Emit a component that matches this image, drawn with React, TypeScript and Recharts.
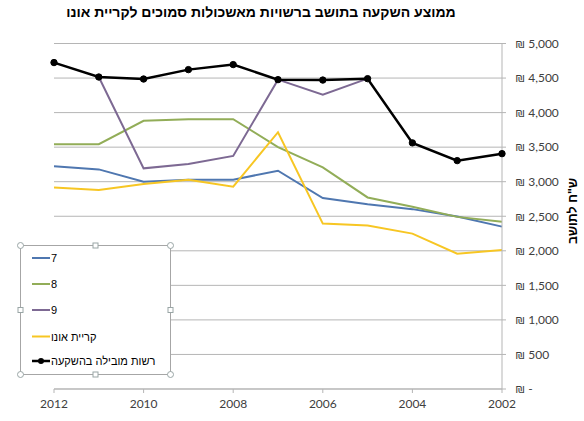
import { LineChart, Line, XAxis, YAxis, CartesianGrid, Legend } from "recharts";

const years = ["2012", "2011", "2010", "2009", "2008", "2007", "2006", "2005", "2004", "2003", "2002"];
const cluster7 = [3222, 3178, 3000, 3029, 3029, 3159, 2763, 2675, 2603, 2496, 2350];
const cluster8 = [3542, 3542, 3881, 3905, 3905, 3500, 3207, 2772, 2637, 2491, 2419];
const cluster9 = [null, 4515, 3193, 3257, 3373, 4477, 4259, 4491, null, null, null];
const kiryatOno = [2917, 2879, 2966, 3029, 2927, 3716, 2394, 2365, 2249, 1958, 2012];
const leader = [4724, 4515, 4486, 4622, 4695, 4477, 4471, 4491, 3562, 3305, 3406];
const yTicks = [0, 500, 1000, 1500, 2000, 2500, 3000, 3500, 4000, 4500, 5000];

const TITLE = "ממוצע השקעה בתושב ברשויות מאשכולות סמוכים לקריית אונו";
const Y_LABEL = 'ש"ח לתושב';

const series = [
  { key: "c7", name: "7", color: "#4f77b0", values: cluster7 },
  { key: "c8", name: "8", color: "#92ad58", values: cluster8 },
  { key: "c9", name: "9", color: "#7d6993", values: cluster9 },
  { key: "ono", name: "קריית אונו", color: "#f7c623", values: kiryatOno },
  { key: "lead", name: "רשות מובילה בהשקעה", color: "#000000", values: leader },
];

const data = years.map((year, i) => {
  const row: Record<string, string | number | null> = { year };
  series.forEach((s) => {
    row[s.key] = s.values[i];
  });
  return row;
});

const FONT = "Lato, 'Liberation Sans', sans-serif";
const HEB_FONT = "'Liberation Sans', Arial, sans-serif";

const formatShekel = (v: number) => (v === 0 ? "₪ -" : `₪ ${v.toLocaleString("en-US")}`);

// selected-legend box like the Excel screenshot, with its handles
function LegendBox() {
  const bx = 4.5, by = 4.5, bw = 150, bh = 129;
  const corners = [
    [bx, by], [bx + bw, by], [bx, by + bh], [bx + bw, by + bh],
  ];
  const mids = [
    [bx + bw / 2, by], [bx + bw / 2, by + bh], [bx, by + bh / 2], [bx + bw, by + bh / 2],
  ];
  const rowY = [17, 43, 69, 95.5, 120];
  return (
    <div style={{ position: "relative", width: 160, height: 138, background: "transparent" }}>
      <svg width={160} height={138} style={{ position: "absolute", left: 0, top: 0 }}>
        <rect x={bx} y={by} width={bw} height={bh} fill="#ffffff" stroke="#a6a6a6" strokeWidth={1} />
        {corners.map(([x, y], i) => (
          <circle key={`c${i}`} cx={x} cy={y} r={3} fill="#ffffff" stroke="#9aa6a6" strokeWidth={1} />
        ))}
        {mids.map(([x, y], i) => (
          <rect key={`m${i}`} x={x - 2.5} y={y - 2.5} width={5} height={5} fill="#ffffff" stroke="#9aa6a6" strokeWidth={1} />
        ))}
        {series.map((s, i) => (
          <g key={s.key}>
            <line x1={16} x2={34} y1={rowY[i]} y2={rowY[i]} stroke={s.color} strokeWidth={s.key === "lead" ? 2.5 : 2} />
            {s.key === "lead" && <circle cx={25} cy={rowY[i]} r={3} fill="#000" />}
          </g>
        ))}
      </svg>
      {series.map((s, i) => (
        <div
          key={s.key}
          dir="rtl"
          style={{
            position: "absolute",
            left: 35,
            top: rowY[i] - 8,
            height: 16,
            lineHeight: "16px",
            fontFamily: HEB_FONT,
            fontSize: 11,
            color: "#000",
            whiteSpace: "nowrap",
          }}
        >
          {s.name}
        </div>
      ))}
    </div>
  );
}

function YTitle(props: any) {
  const x = 573;
  const y = 211;
  return (
    <text
      x={x}
      y={y}
      transform={`rotate(-90 ${x} ${y})`}
      textAnchor="middle"
      dominantBaseline="central"
      direction="rtl"
      fontFamily={HEB_FONT}
      fontWeight="bold"
      fontSize={12.5}
      fill="#000"
    >
      {Y_LABEL}
    </text>
  );
}

export default function App() {
  return (
    <div style={{ position: "absolute", left: 0, top: 0, width: 584, height: 421, background: "#fff" }}>
      <div
        dir="rtl"
        style={{
          position: "absolute",
          left: 0,
          width: 522,
          top: 2,
          textAlign: "center",
          fontFamily: HEB_FONT,
          fontWeight: "bold",
          fontSize: 14,
          lineHeight: "21px",
          color: "#000",
        }}
      >
        {TITLE}
      </div>
      <LineChart width={584} height={421} data={data} margin={{ top: 43.5, right: 12, bottom: 7, left: 54 }}>
        <CartesianGrid vertical={false} stroke="#b5b5b5" />
        <XAxis
          dataKey="year"
          interval={1}
          height={25}
          stroke="#b5b5b5"
          tickSize={4}
          tickMargin={6}
          tick={{ fill: "#404040", fontFamily: FONT, fontSize: 12 }}
        />
        <YAxis
          orientation="right"
          width={70}
          domain={[0, 5000]}
          ticks={yTicks}
          interval={0}
          stroke="#b5b5b5"
          tickSize={4}
          tickMargin={9}
          tickFormatter={formatShekel}
          tick={{ fill: "#404040", fontFamily: FONT, fontSize: 12, textAnchor: "start" }}
          label={<YTitle />}
        />
        <Legend
          layout="vertical"
          align="center"
          verticalAlign="middle"
          content={() => <LegendBox />}
          wrapperStyle={{ left: 16, top: 241, width: 160, height: 138 }}
        />
        {series.map((s) =>
          s.key === "lead" ? (
            <Line
              key={s.key}
              dataKey={s.key}
              name={s.name}
              stroke={s.color}
              strokeWidth={2.5}
              dot={{ r: 3.2, fill: "#000", stroke: "#000", strokeWidth: 1 }}
              activeDot={false}
              isAnimationActive={false}
              type="linear"
            />
          ) : (
            <Line
              key={s.key}
              dataKey={s.key}
              name={s.name}
              stroke={s.color}
              strokeWidth={2}
              dot={false}
              activeDot={false}
              isAnimationActive={false}
              type="linear"
            />
          )
        )}
      </LineChart>
    </div>
  );
}
